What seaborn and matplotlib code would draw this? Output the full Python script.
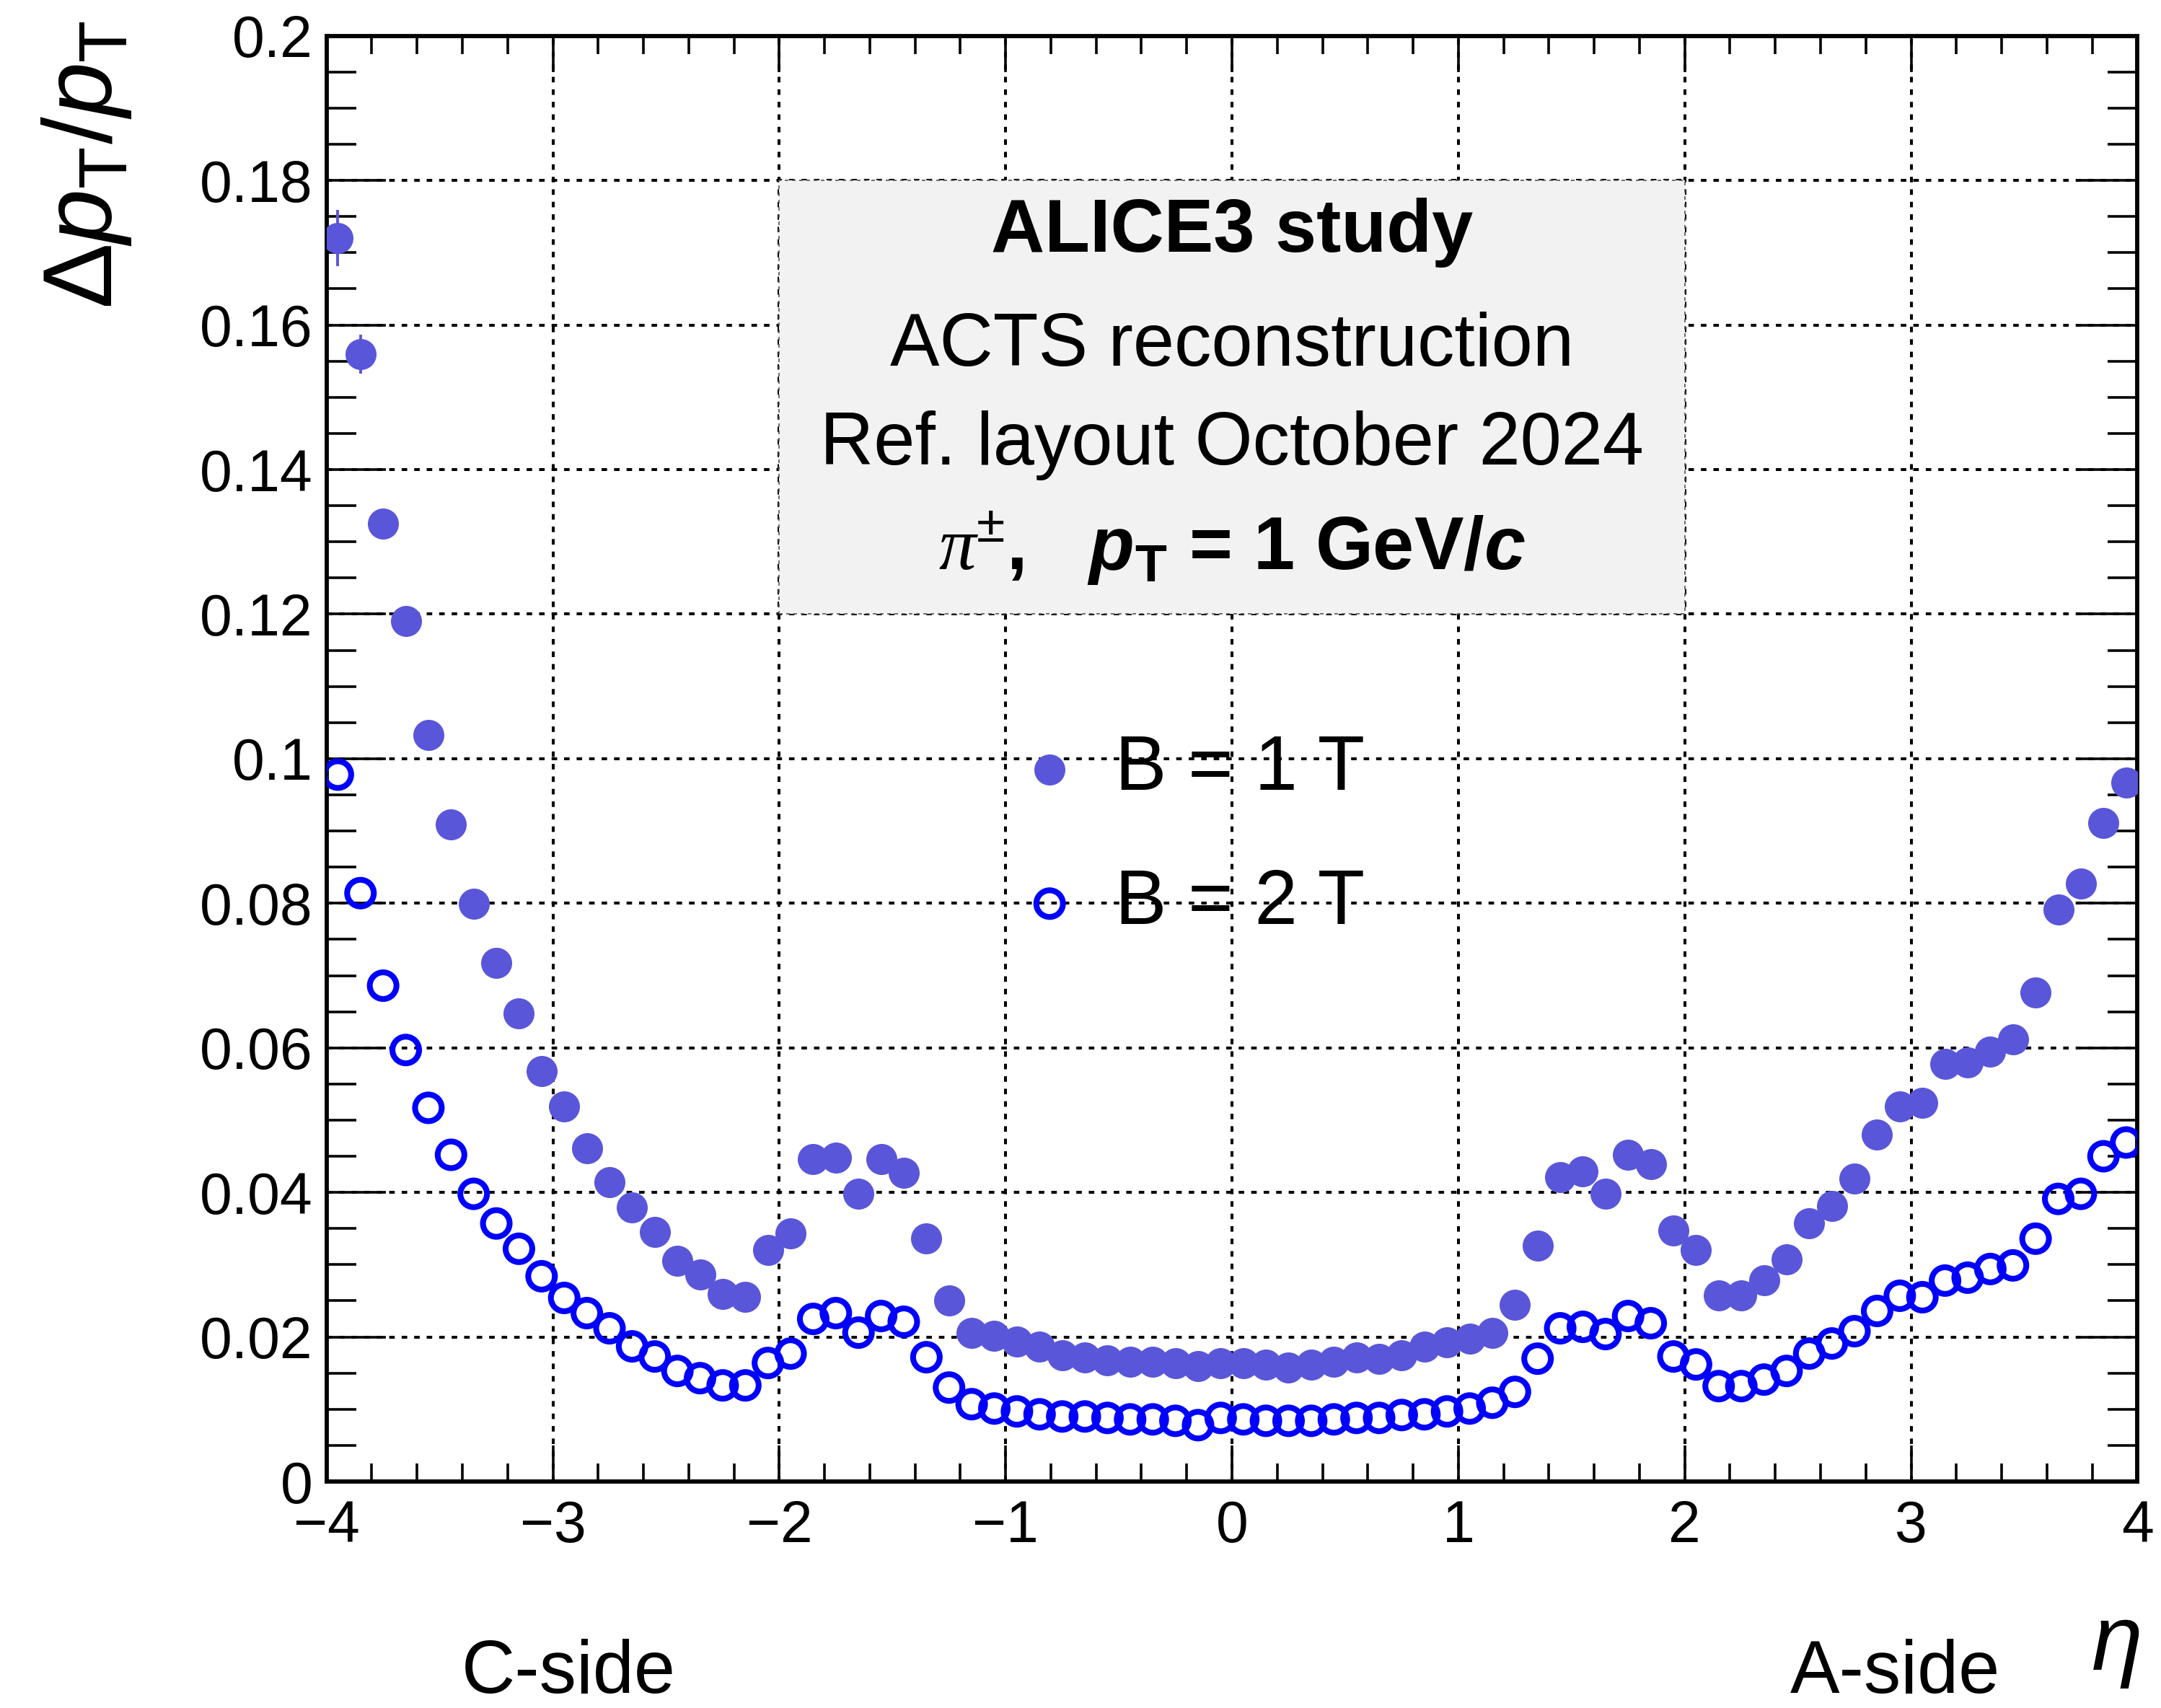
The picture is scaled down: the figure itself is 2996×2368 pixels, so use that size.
import numpy as np
import pandas as pd
import seaborn as sns
import matplotlib.pyplot as plt
from matplotlib.patches import Rectangle
from matplotlib.ticker import MultipleLocator, FuncFormatter

# eta bin centres
eta = [-3.95, -3.85, -3.75, -3.65, -3.55, -3.45, -3.35, -3.25, -3.15, -3.05,
       -2.95, -2.85, -2.75, -2.65, -2.55, -2.45, -2.35, -2.25, -2.15, -2.05,
       -1.95, -1.85, -1.75, -1.65, -1.55, -1.45, -1.35, -1.25, -1.15, -1.05,
       -0.95, -0.85, -0.75, -0.65, -0.55, -0.45, -0.35, -0.25, -0.15, -0.05,
       0.05, 0.15, 0.25, 0.35, 0.45, 0.55, 0.65, 0.75, 0.85, 0.95,
       1.05, 1.15, 1.25, 1.35, 1.45, 1.55, 1.65, 1.75, 1.85, 1.95,
       2.05, 2.15, 2.25, 2.35, 2.45, 2.55, 2.65, 2.75, 2.85, 2.95,
       3.05, 3.15, 3.25, 3.35, 3.45, 3.55, 3.65, 3.75, 3.85, 3.95]

res_1T = [0.1720, 0.1560, 0.1325, 0.1190, 0.1033, 0.0909, 0.0799, 0.0717, 0.0648, 0.0568,
          0.0519, 0.0461, 0.0414, 0.0379, 0.0345, 0.0305, 0.0286, 0.0259, 0.0255, 0.0320,
          0.0343, 0.0446, 0.0448, 0.0398, 0.0446, 0.0427, 0.0336, 0.0250, 0.0206, 0.0202,
          0.0194, 0.0187, 0.0175, 0.0172, 0.0168, 0.0166, 0.0166, 0.0164, 0.0160, 0.0164,
          0.0164, 0.0162, 0.0158, 0.0162, 0.0166, 0.0172, 0.0170, 0.0175, 0.0187, 0.0193,
          0.0198, 0.0206, 0.0244, 0.0326, 0.0421, 0.0429, 0.0398, 0.0452, 0.0439, 0.0347,
          0.0320, 0.0257, 0.0257, 0.0278, 0.0307, 0.0357, 0.0381, 0.0419, 0.0480, 0.0519,
          0.0524, 0.0578, 0.0580, 0.0595, 0.0612, 0.0677, 0.0791, 0.0827, 0.0911, 0.0967]

err_1T = [0.0039, 0.0027, 0.0015, 0.0012, 0.0010, 0.0008, 0.0007, 0.0006, 0.0005, 0.0005,
          0.0004, 0.0004, 0.0004, 0.0003, 0.0003, 0.0003, 0.0003, 0.0003, 0.0003, 0.0003,
          0.0003, 0.0004, 0.0004, 0.0004, 0.0004, 0.0004, 0.0003, 0.0003, 0.0002, 0.0002,
          0.0002, 0.0002, 0.0002, 0.0002, 0.0002, 0.0002, 0.0002, 0.0002, 0.0002, 0.0002,
          0.0002, 0.0002, 0.0002, 0.0002, 0.0002, 0.0002, 0.0002, 0.0002, 0.0002, 0.0002,
          0.0002, 0.0002, 0.0003, 0.0003, 0.0004, 0.0004, 0.0004, 0.0004, 0.0004, 0.0003,
          0.0003, 0.0003, 0.0003, 0.0003, 0.0003, 0.0003, 0.0003, 0.0004, 0.0004, 0.0004,
          0.0005, 0.0005, 0.0005, 0.0005, 0.0006, 0.0006, 0.0007, 0.0008, 0.0009, 0.0010]

res_2T = [0.0978, 0.0814, 0.0686, 0.0597, 0.0517, 0.0452, 0.0398, 0.0357, 0.0322, 0.0284,
          0.0254, 0.0233, 0.0212, 0.0187, 0.0173, 0.0153, 0.0143, 0.0133, 0.0133, 0.0164,
          0.0177, 0.0225, 0.0233, 0.0206, 0.0229, 0.0221, 0.0172, 0.0130, 0.0107, 0.0101,
          0.0097, 0.0093, 0.0090, 0.0090, 0.0088, 0.0086, 0.0086, 0.0084, 0.0078, 0.0088,
          0.0086, 0.0084, 0.0084, 0.0084, 0.0086, 0.0088, 0.0088, 0.0092, 0.0093, 0.0097,
          0.0101, 0.0109, 0.0124, 0.0170, 0.0212, 0.0214, 0.0204, 0.0229, 0.0219, 0.0173,
          0.0162, 0.0132, 0.0132, 0.0141, 0.0153, 0.0177, 0.0191, 0.0208, 0.0236, 0.0257,
          0.0255, 0.0278, 0.0282, 0.0294, 0.0299, 0.0336, 0.0391, 0.0398, 0.0450, 0.0469]

labels = ['B = 1 T', 'B = 2 T']
box_lines = ['ALICE3 study', 'ACTS reconstruction', 'Ref. layout October 2024',
             r'$\mathcal{\pi}^{\pm}$,   $\mathbfit{p}_{\mathbf{T}}$ = 1 GeV/$\mathbfit{c}$']

df1 = pd.DataFrame({'eta': eta, 'res': res_1T, 'err': err_1T})
df2 = pd.DataFrame({'eta': eta, 'res': res_2T})

sns.set_theme(style='ticks')
plt.rcParams['font.family'] = ['Liberation Sans', 'DejaVu Sans']
plt.rcParams['text.color'] = 'black'
plt.rcParams['axes.labelcolor'] = 'black'
plt.rcParams['xtick.color'] = 'black'
plt.rcParams['ytick.color'] = 'black'
plt.rcParams['mathtext.fontset'] = 'custom'
plt.rcParams['mathtext.rm'] = 'Liberation Sans'
plt.rcParams['mathtext.it'] = 'Liberation Sans:italic'
plt.rcParams['mathtext.bf'] = 'Liberation Sans:bold'
plt.rcParams['mathtext.bfit'] = 'Liberation Sans:italic:bold'
plt.rcParams['mathtext.cal'] = 'Liberation Serif:italic'

col1 = '#5a56d9'
col2 = '#0000ff'

fig = plt.figure(figsize=(14.98, 11.84), dpi=200)
ax = fig.add_axes([0.1511, 0.1326, 0.838, 0.8464])

ax.errorbar(df1['eta'], df1['res'], yerr=df1['err'], fmt='none', ecolor=col1,
            elinewidth=1.4, capsize=0, zorder=2)
sns.scatterplot(data=df1, x='eta', y='res', ax=ax, color=col1, s=240, linewidth=0,
                label=labels[0], zorder=3, legend=False)
sns.scatterplot(data=df2, x='eta', y='res', ax=ax, color=col2, s=177, linewidth=2.9,
                label=labels[1], zorder=3, legend=False)
ax.collections[-1].set_facecolor('none')
ax.collections[-1].set_edgecolor(col2)

ax.set_xlim(-4, 4)
ax.set_ylim(0, 0.2)
ax.xaxis.set_major_locator(MultipleLocator(1))
ax.xaxis.set_minor_locator(MultipleLocator(0.2))
ax.yaxis.set_major_locator(MultipleLocator(0.02))
ax.yaxis.set_minor_locator(MultipleLocator(0.005))
ax.yaxis.set_major_formatter(FuncFormatter(lambda v, p: '%g' % round(v, 3)))

ax.tick_params(axis='both', which='both', direction='in', top=True, right=True,
               color='black', labelcolor='black', width=1.3, labelsize=29)
ax.tick_params(axis='x', which='major', length=18, pad=9)
ax.tick_params(axis='x', which='minor', length=9)
ax.tick_params(axis='y', which='major', length=29.5, pad=7)
ax.tick_params(axis='y', which='minor', length=14.8)
for sp in ax.spines.values():
    sp.set_linewidth(2.1)
    sp.set_color('black')

ax.set_axisbelow(True)
ax.grid(True, which='major', color='black', linestyle=(0, (1.9, 2.4)), linewidth=1.45)
ax.set_xlabel('')
ax.set_ylabel('')

# info box
ax.add_patch(Rectangle((-2, 0.12), 4, 0.06, facecolor='#f2f2f2', edgecolor='#555555',
                       linestyle=(0, (3, 3)), linewidth=0.6, zorder=1))
ax.text(0, 0.1728, box_lines[0], ha='center', va='center', fontsize=37,
        fontweight='bold', zorder=4)
ax.text(0, 0.1570, box_lines[1], ha='center', va='center', fontsize=37, zorder=4)
ax.text(0, 0.1433, box_lines[2], ha='center', va='center', fontsize=37, zorder=4)
ax.text(0, 0.1303, box_lines[3], ha='center', va='center_baseline', fontsize=37,
        fontweight='bold', zorder=4)

leg = ax.legend(loc='center left', bbox_to_anchor=(0.378, 0.446), frameon=False,
                fontsize=38.5, handlelength=1.0, handletextpad=0.35, labelspacing=0.8,
                borderpad=0, borderaxespad=0, scatterpoints=1)

fig.text(0.04, 0.988, r'$\Delta p_{\rm T}/p_{\rm T}$', rotation=90, ha='center',
         va='top', fontsize=49)
fig.text(0.979, 0.035, r'$\eta$', ha='center', va='center', fontsize=46,
         family='Liberation Serif', style='italic')
fig.text(0.263, 0.02, 'C-side', ha='center', va='center', fontsize=37)
fig.text(0.877, 0.02, 'A-side', ha='center', va='center', fontsize=37)

fig.savefig('out.png', dpi=200)
